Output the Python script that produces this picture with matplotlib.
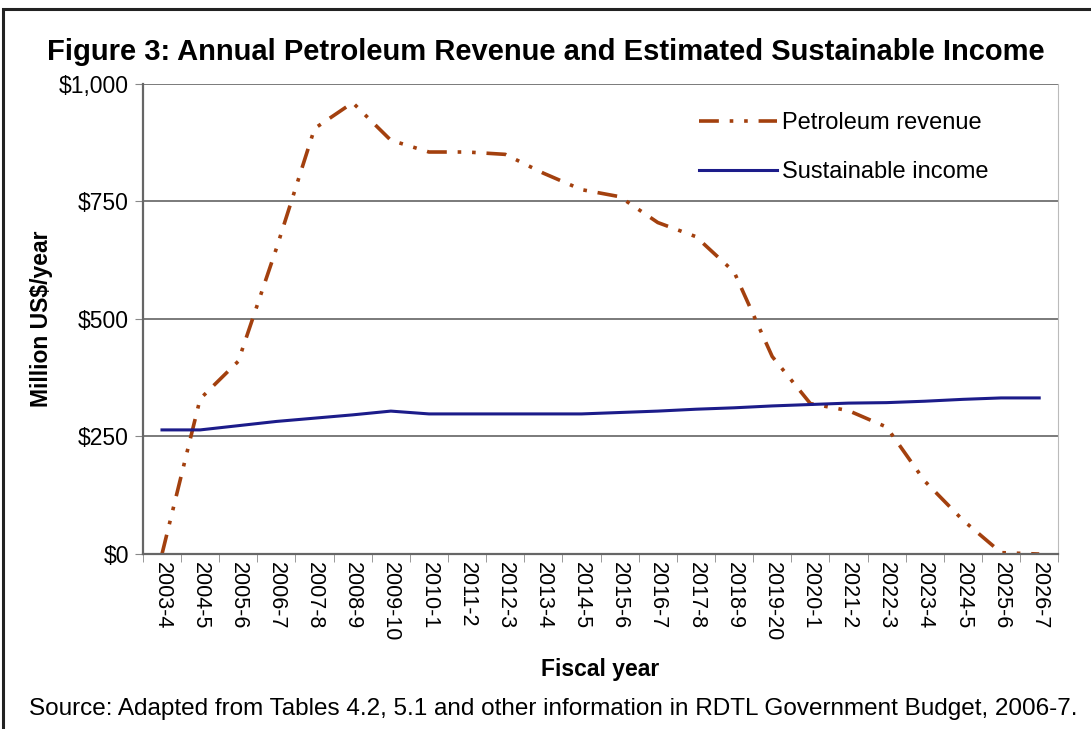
import matplotlib.pyplot as plt
from matplotlib.patches import Rectangle

plt.rcParams['font.family'] = ['Liberation Sans', 'DejaVu Sans']

years = ['2003-4', '2004-5', '2005-6', '2006-7', '2007-8', '2008-9', '2009-10',
         '2010-1', '2011-2', '2012-3', '2013-4', '2014-5', '2015-6', '2016-7',
         '2017-8', '2018-9', '2019-20', '2020-1', '2021-2', '2022-3', '2023-4',
         '2024-5', '2025-6', '2026-7']
petroleum = [0, 330, 410, 650, 905, 960, 880, 855, 855, 850, 810, 775, 760,
             705, 675, 600, 420, 320, 305, 270, 155, 72, 3, 0]
sustainable = [264, 264, 273, 282, 289, 296, 304, 298, 298, 298, 298, 298, 301,
               304, 308, 311, 315, 318, 321, 322, 325, 329, 332, 332]

fig = plt.figure(figsize=(10.91, 7.29), dpi=100)
fig.patches.append(Rectangle((0.003, -0.01), 1.2, 0.997, transform=fig.transFigure,
                             fill=False, edgecolor='#222222', linewidth=2.2))

ax = fig.add_axes([0.131, 0.240, 0.839, 0.645])
x = list(range(len(years)))
ax.plot(x, petroleum, color='#A3400E', linewidth=2.6, dashes=(5.5, 3, 1, 3, 1, 3),
        label='Petroleum revenue')
ax.plot(x, sustainable, color='#1C1C8A', linewidth=2.2, label='Sustainable income')

ax.set_xlim(-0.5, len(years) - 0.5)
ax.set_ylim(0, 1000)
ax.set_yticks([0, 250, 500, 750, 1000])
ax.set_yticklabels(['$0', '$250', '$500', '$750', '$1,000'], fontsize=16.5)
ax.set_xticks(x)
ax.set_xticklabels(years, rotation=270, fontsize=15.5)
ax.set_xticks([i - 0.5 for i in range(len(years) + 1)], minor=True)
ax.tick_params(axis='x', which='major', length=0, pad=6)
ax.tick_params(axis='x', which='minor', length=6, color='#888888')
ax.tick_params(axis='y', length=6, color='#888888', pad=4)
ax.grid(axis='y', color='#7a7a7a', linewidth=1.4)
ax.set_axisbelow(True)
for side in ['left', 'bottom']:
    ax.spines[side].set_color('#666666')
    ax.spines[side].set_linewidth(1.6)
ax.spines['top'].set_visible(False)
ax.spines['right'].set_color('#bbbbbb')

ax.set_ylabel('Million US$/year', fontsize=16.5, fontweight='bold', labelpad=4)
ax.set_xlabel('Fiscal year', fontsize=16.5, fontweight='bold', labelpad=12)

leg = ax.legend(loc='upper right', bbox_to_anchor=(0.947, 0.985), frameon=False,
                fontsize=17, handlelength=3.3, handletextpad=0.2, labelspacing=1.15)

fig.text(0.5, 0.929, 'Figure 3: Annual Petroleum Revenue and Estimated Sustainable Income',
         ha='center', va='center', fontsize=21, fontweight='bold')
fig.text(0.507, 0.028, 'Source: Adapted from Tables 4.2, 5.1 and other information in '
         'RDTL Government Budget, 2006-7.', ha='center', va='center', fontsize=17.5)

fig.savefig('out.png', dpi=100)
